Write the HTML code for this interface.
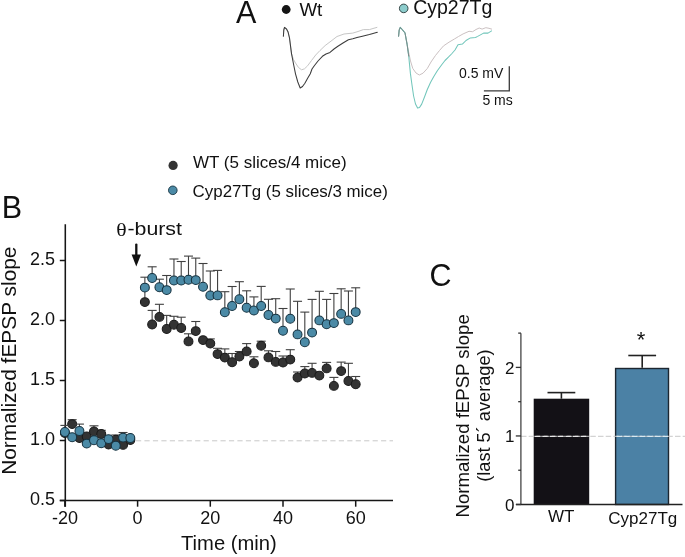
<!DOCTYPE html>
<html><head><meta charset="utf-8"><style>
html,body{margin:0;padding:0;background:#fff;}
body{width:685px;height:557px;overflow:hidden;}
svg{display:block;will-change:transform;filter:blur(0.3px);font-family:"Liberation Sans",sans-serif;fill:#111;}
svg text{fill:#111;}
</style></head><body>
<svg width="685" height="557" viewBox="0 0 685 557">
<rect width="685" height="557" fill="#fff"/>
<text x="236" y="22.6" font-size="30.5">A</text>
<circle cx="286.2" cy="9.5" r="4.4" fill="#151515"/>
<text x="299.4" y="15.8" font-size="18.8">Wt</text>
<circle cx="403.7" cy="8.4" r="4.3" fill="#8ccccc" stroke="#2a3a3a" stroke-width="0.9"/>
<text x="413.2" y="14.4" font-size="19.5">Cyp27Tg</text>
<polyline points="283.4,36.2 283.8,30.0 284.5,27.4 286.5,29.0 288.1,32.1 289.5,38.0 291.5,53.6 293.5,59.5 295.5,63.0 298.5,67.5 301.6,69.8 304.5,68.8 307.6,65.8 311.5,60.5 315.7,55.0 320.0,50.5 325.1,45.6 330.0,41.9 337.0,36.5 344.0,34.0 352.8,33.1 358.0,31.5 363.3,29.6 369.4,29.6 373.0,28.5 376.9,27.4" fill="none" stroke="#c6c6c6" stroke-width="1.0" stroke-linejoin="round" stroke-linecap="round"/>
<polyline points="283.4,36.2 283.8,30.0 284.5,27.4 286.5,29.0 288.1,32.1 289.5,38.0 291.5,53.6 293.5,64.0 295.5,73.8 297.8,82.0 300.2,88.0 302.5,86.5 304.9,83.3 307.5,78.5 310.3,73.8 312.0,69.0 314.3,65.8 318.0,61.0 322.4,56.3 326.0,54.0 330.0,52.4 334.0,49.0 337.9,46.3 343.0,43.0 348.4,39.7 352.8,38.8 357.0,37.5 362.4,36.2 369.4,34.5 373.0,33.5 377.3,32.3" fill="none" stroke="#3c3c3c" stroke-width="1.05" stroke-linejoin="round" stroke-linecap="round"/>
<polyline points="398.6,36.2 399.2,30.0 400.3,27.3 402.3,29.7 405.0,32.9 407.1,44.3 408.7,52.3 410.5,61.0 412.8,68.5 416.0,73.0 419.3,75.0 423.0,73.2 427.3,68.5 431.0,62.0 435.4,55.6 439.5,50.5 443.5,45.9 449.0,42.2 454.4,39.0 458.5,36.5 463.1,33.9 469.0,31.3 472.6,31.7 476.0,29.5 479.2,28.0 482.1,29.1 485.8,27.7 489.0,28.3 491.6,29.1" fill="none" stroke="#cbc1c2" stroke-width="1.0" stroke-linejoin="round" stroke-linecap="round"/>
<polyline points="398.6,36.2 399.2,30.0 400.3,27.3 402.3,29.7 405.0,32.9 407.1,44.3 408.7,56.0 410.4,73.4 412.0,85.0 413.6,96.0 415.5,104.0 417.6,108.1 419.5,107.5 421.7,104.1 424.5,97.0 427.3,89.5 430.5,82.5 433.8,76.6 437.5,70.5 441.9,64.5 445.0,60.5 448.4,57.2 451.5,54.0 455.0,50.0 458.0,44.8 462.4,44.1 466.0,40.5 470.4,37.9 475.5,37.5 477.7,36.4 483.6,33.1 488.0,33.1 491.6,30.9" fill="none" stroke="#72c6bb" stroke-width="1.05" stroke-linejoin="round" stroke-linecap="round"/>
<polyline points="398.6,36.2 399.2,30.0 400.3,27.3 402.3,29.7 405.0,32.9 407.1,44.3 408.7,56.0" fill="none" stroke="#7a8c8a" stroke-width="1.0" stroke-linejoin="round" stroke-linecap="round"/>
<polyline points="483.9,90.8 509.3,90.8 509.3,66.2" fill="none" stroke="#3a3a3a" stroke-width="1.3"/>
<text x="459" y="78" font-size="14">0.5 mV</text>
<text x="482.4" y="104.6" font-size="14">5 ms</text>
<text x="1.8" y="217.9" font-size="30.5">B</text>
<circle cx="173.1" cy="165.4" r="4.6" fill="#333"/>
<text x="193" y="168.4" font-size="17">WT (5 slices/4 mice)</text>
<circle cx="172.8" cy="190.3" r="4.3" fill="#4b8aa6" stroke="#153240" stroke-width="0.9"/>
<text x="192.6" y="196.6" font-size="16.9">Cyp27Tg (5 slices/3 mice)</text>
<line x1="65.3" y1="224.3" x2="65.3" y2="506.7" stroke="#161616" stroke-width="1.55"/>
<line x1="59.8" y1="500.5" x2="393" y2="500.5" stroke="#161616" stroke-width="1.6"/>
<line x1="59.8" y1="260.5" x2="65.3" y2="260.5" stroke="#161616" stroke-width="1.5"/>
<text x="55" y="264.8" font-size="18" text-anchor="end">2.5</text>
<line x1="59.8" y1="320.5" x2="65.3" y2="320.5" stroke="#161616" stroke-width="1.5"/>
<text x="55" y="324.8" font-size="18" text-anchor="end">2.0</text>
<line x1="59.8" y1="380.5" x2="65.3" y2="380.5" stroke="#161616" stroke-width="1.5"/>
<text x="55" y="384.8" font-size="18" text-anchor="end">1.5</text>
<line x1="59.8" y1="440.5" x2="65.3" y2="440.5" stroke="#161616" stroke-width="1.5"/>
<text x="55" y="444.8" font-size="18" text-anchor="end">1.0</text>
<line x1="59.8" y1="500.5" x2="65.3" y2="500.5" stroke="#161616" stroke-width="1.5"/>
<text x="55" y="504.8" font-size="18" text-anchor="end">0.5</text>
<line x1="64.90" y1="500.5" x2="64.90" y2="506.7" stroke="#161616" stroke-width="1.5"/>
<text x="64.90" y="523.5" font-size="18" text-anchor="middle">-20</text>
<line x1="137.60" y1="500.5" x2="137.60" y2="506.7" stroke="#161616" stroke-width="1.5"/>
<text x="137.60" y="523.5" font-size="18" text-anchor="middle">0</text>
<line x1="210.30" y1="500.5" x2="210.30" y2="506.7" stroke="#161616" stroke-width="1.5"/>
<text x="210.30" y="523.5" font-size="18" text-anchor="middle">20</text>
<line x1="283.00" y1="500.5" x2="283.00" y2="506.7" stroke="#161616" stroke-width="1.5"/>
<text x="283.00" y="523.5" font-size="18" text-anchor="middle">40</text>
<line x1="355.70" y1="500.5" x2="355.70" y2="506.7" stroke="#161616" stroke-width="1.5"/>
<text x="355.70" y="523.5" font-size="18" text-anchor="middle">60</text>
<text x="181" y="550" font-size="20.2">Time (min)</text>
<text transform="translate(15.8,360.7) rotate(-90)" font-size="20.9" text-anchor="middle">Normalized fEPSP slope</text>
<text x="116.3" y="235.6" font-size="18.8" font-family="Liberation Serif" textLength="10.4" lengthAdjust="spacingAndGlyphs">&#952;</text>
<text x="127.4" y="235.3" font-size="18.6" textLength="54.6" lengthAdjust="spacingAndGlyphs">-burst</text>
<line x1="136.3" y1="244.6" x2="136.3" y2="256" stroke="#111" stroke-width="2.3" stroke-linecap="round"/>
<polygon points="131.6,254.6 141,254.6 136.3,266.6" fill="#111"/>
<line x1="136" y1="440.8" x2="393" y2="440.8" stroke="#c8c8c8" stroke-width="1" stroke-dasharray="5.2 3.25"/>
<line x1="72.17" y1="419.70" x2="72.17" y2="424.10" stroke="#3f3f3f" stroke-width="1.1"/><line x1="67.67" y1="419.70" x2="76.67" y2="419.70" stroke="#3f3f3f" stroke-width="1.1"/>
<line x1="93.98" y1="425.80" x2="93.98" y2="431.40" stroke="#3f3f3f" stroke-width="1.1"/><line x1="89.48" y1="425.80" x2="98.48" y2="425.80" stroke="#3f3f3f" stroke-width="1.1"/>
<line x1="101.25" y1="430.30" x2="101.25" y2="434.00" stroke="#3f3f3f" stroke-width="1.1"/><line x1="96.75" y1="430.30" x2="105.75" y2="430.30" stroke="#3f3f3f" stroke-width="1.1"/>
<line x1="115.79" y1="435.00" x2="115.79" y2="439.80" stroke="#3f3f3f" stroke-width="1.1"/><line x1="111.29" y1="435.00" x2="120.29" y2="435.00" stroke="#3f3f3f" stroke-width="1.1"/>
<circle cx="64.90" cy="433.00" r="4.45" fill="#333333" stroke="#1a1a1a" stroke-width="1.05"/>
<circle cx="72.17" cy="424.10" r="4.45" fill="#333333" stroke="#1a1a1a" stroke-width="1.05"/>
<circle cx="79.44" cy="438.00" r="4.45" fill="#333333" stroke="#1a1a1a" stroke-width="1.05"/>
<circle cx="86.71" cy="436.40" r="4.45" fill="#333333" stroke="#1a1a1a" stroke-width="1.05"/>
<circle cx="93.98" cy="431.40" r="4.45" fill="#333333" stroke="#1a1a1a" stroke-width="1.05"/>
<circle cx="101.25" cy="434.00" r="4.45" fill="#333333" stroke="#1a1a1a" stroke-width="1.05"/>
<circle cx="108.52" cy="444.60" r="4.45" fill="#333333" stroke="#1a1a1a" stroke-width="1.05"/>
<circle cx="115.79" cy="439.80" r="4.45" fill="#333333" stroke="#1a1a1a" stroke-width="1.05"/>
<circle cx="123.06" cy="444.90" r="4.45" fill="#333333" stroke="#1a1a1a" stroke-width="1.05"/>
<circle cx="130.33" cy="440.00" r="4.45" fill="#333333" stroke="#1a1a1a" stroke-width="1.05"/>
<line x1="64.90" y1="425.40" x2="64.90" y2="432.00" stroke="#3f3f3f" stroke-width="1.1"/><line x1="60.40" y1="425.40" x2="69.40" y2="425.40" stroke="#3f3f3f" stroke-width="1.1"/>
<line x1="79.44" y1="424.10" x2="79.44" y2="431.00" stroke="#3f3f3f" stroke-width="1.1"/><line x1="74.94" y1="424.10" x2="83.94" y2="424.10" stroke="#3f3f3f" stroke-width="1.1"/>
<line x1="123.06" y1="432.50" x2="123.06" y2="437.60" stroke="#3f3f3f" stroke-width="1.1"/><line x1="118.56" y1="432.50" x2="127.56" y2="432.50" stroke="#3f3f3f" stroke-width="1.1"/>
<circle cx="64.90" cy="432.00" r="4.45" fill="#4b8aa6" stroke="#153240" stroke-width="1.05"/>
<circle cx="72.17" cy="437.30" r="4.45" fill="#4b8aa6" stroke="#153240" stroke-width="1.05"/>
<circle cx="79.44" cy="431.00" r="4.45" fill="#4b8aa6" stroke="#153240" stroke-width="1.05"/>
<circle cx="86.71" cy="443.60" r="4.45" fill="#4b8aa6" stroke="#153240" stroke-width="1.05"/>
<circle cx="93.98" cy="440.20" r="4.45" fill="#4b8aa6" stroke="#153240" stroke-width="1.05"/>
<circle cx="101.25" cy="443.30" r="4.45" fill="#4b8aa6" stroke="#153240" stroke-width="1.05"/>
<circle cx="108.52" cy="439.10" r="4.45" fill="#4b8aa6" stroke="#153240" stroke-width="1.05"/>
<circle cx="115.79" cy="445.70" r="4.45" fill="#4b8aa6" stroke="#153240" stroke-width="1.05"/>
<circle cx="123.06" cy="437.60" r="4.45" fill="#4b8aa6" stroke="#153240" stroke-width="1.05"/>
<circle cx="130.33" cy="438.00" r="4.45" fill="#4b8aa6" stroke="#153240" stroke-width="1.05"/>
<line x1="144.87" y1="289.00" x2="144.87" y2="302.10" stroke="#3f3f3f" stroke-width="1.1"/><line x1="140.37" y1="289.00" x2="149.37" y2="289.00" stroke="#3f3f3f" stroke-width="1.1"/>
<line x1="152.14" y1="310.40" x2="152.14" y2="324.50" stroke="#3f3f3f" stroke-width="1.1"/><line x1="147.64" y1="310.40" x2="156.64" y2="310.40" stroke="#3f3f3f" stroke-width="1.1"/>
<line x1="159.41" y1="304.30" x2="159.41" y2="316.90" stroke="#3f3f3f" stroke-width="1.1"/><line x1="154.91" y1="304.30" x2="163.91" y2="304.30" stroke="#3f3f3f" stroke-width="1.1"/>
<line x1="166.68" y1="315.40" x2="166.68" y2="329.00" stroke="#3f3f3f" stroke-width="1.1"/><line x1="162.18" y1="315.40" x2="171.18" y2="315.40" stroke="#3f3f3f" stroke-width="1.1"/>
<line x1="173.95" y1="316.30" x2="173.95" y2="324.70" stroke="#3f3f3f" stroke-width="1.1"/><line x1="169.45" y1="316.30" x2="178.45" y2="316.30" stroke="#3f3f3f" stroke-width="1.1"/>
<line x1="181.22" y1="317.20" x2="181.22" y2="328.00" stroke="#3f3f3f" stroke-width="1.1"/><line x1="176.72" y1="317.20" x2="185.72" y2="317.20" stroke="#3f3f3f" stroke-width="1.1"/>
<line x1="188.49" y1="333.80" x2="188.49" y2="341.40" stroke="#3f3f3f" stroke-width="1.1"/><line x1="183.99" y1="333.80" x2="192.99" y2="333.80" stroke="#3f3f3f" stroke-width="1.1"/>
<line x1="195.76" y1="321.50" x2="195.76" y2="331.10" stroke="#3f3f3f" stroke-width="1.1"/><line x1="191.26" y1="321.50" x2="200.26" y2="321.50" stroke="#3f3f3f" stroke-width="1.1"/>
<line x1="210.30" y1="338.90" x2="210.30" y2="343.60" stroke="#3f3f3f" stroke-width="1.1"/><line x1="205.80" y1="338.90" x2="214.80" y2="338.90" stroke="#3f3f3f" stroke-width="1.1"/>
<line x1="217.57" y1="348.30" x2="217.57" y2="354.10" stroke="#3f3f3f" stroke-width="1.1"/><line x1="213.07" y1="348.30" x2="222.07" y2="348.30" stroke="#3f3f3f" stroke-width="1.1"/>
<line x1="224.84" y1="348.90" x2="224.84" y2="357.60" stroke="#3f3f3f" stroke-width="1.1"/><line x1="220.34" y1="348.90" x2="229.34" y2="348.90" stroke="#3f3f3f" stroke-width="1.1"/>
<line x1="232.11" y1="353.50" x2="232.11" y2="362.30" stroke="#3f3f3f" stroke-width="1.1"/><line x1="227.61" y1="353.50" x2="236.61" y2="353.50" stroke="#3f3f3f" stroke-width="1.1"/>
<line x1="239.38" y1="351.50" x2="239.38" y2="356.50" stroke="#3f3f3f" stroke-width="1.1"/><line x1="234.88" y1="351.50" x2="243.88" y2="351.50" stroke="#3f3f3f" stroke-width="1.1"/>
<line x1="246.65" y1="343.60" x2="246.65" y2="351.40" stroke="#3f3f3f" stroke-width="1.1"/><line x1="242.15" y1="343.60" x2="251.15" y2="343.60" stroke="#3f3f3f" stroke-width="1.1"/>
<line x1="253.92" y1="356.80" x2="253.92" y2="363.20" stroke="#3f3f3f" stroke-width="1.1"/><line x1="249.42" y1="356.80" x2="258.42" y2="356.80" stroke="#3f3f3f" stroke-width="1.1"/>
<line x1="261.19" y1="341.20" x2="261.19" y2="345.70" stroke="#3f3f3f" stroke-width="1.1"/><line x1="256.69" y1="341.20" x2="265.69" y2="341.20" stroke="#3f3f3f" stroke-width="1.1"/>
<line x1="268.46" y1="350.80" x2="268.46" y2="357.40" stroke="#3f3f3f" stroke-width="1.1"/><line x1="263.96" y1="350.80" x2="272.96" y2="350.80" stroke="#3f3f3f" stroke-width="1.1"/>
<line x1="275.73" y1="351.50" x2="275.73" y2="361.90" stroke="#3f3f3f" stroke-width="1.1"/><line x1="271.23" y1="351.50" x2="280.23" y2="351.50" stroke="#3f3f3f" stroke-width="1.1"/>
<line x1="283.00" y1="356.00" x2="283.00" y2="362.50" stroke="#3f3f3f" stroke-width="1.1"/><line x1="278.50" y1="356.00" x2="287.50" y2="356.00" stroke="#3f3f3f" stroke-width="1.1"/>
<line x1="290.27" y1="349.70" x2="290.27" y2="359.60" stroke="#3f3f3f" stroke-width="1.1"/><line x1="285.77" y1="349.70" x2="294.77" y2="349.70" stroke="#3f3f3f" stroke-width="1.1"/>
<line x1="297.54" y1="372.00" x2="297.54" y2="377.50" stroke="#3f3f3f" stroke-width="1.1"/><line x1="293.04" y1="372.00" x2="302.04" y2="372.00" stroke="#3f3f3f" stroke-width="1.1"/>
<line x1="304.81" y1="366.60" x2="304.81" y2="373.50" stroke="#3f3f3f" stroke-width="1.1"/><line x1="300.31" y1="366.60" x2="309.31" y2="366.60" stroke="#3f3f3f" stroke-width="1.1"/>
<line x1="312.08" y1="363.30" x2="312.08" y2="372.90" stroke="#3f3f3f" stroke-width="1.1"/><line x1="307.58" y1="363.30" x2="316.58" y2="363.30" stroke="#3f3f3f" stroke-width="1.1"/>
<line x1="326.62" y1="362.40" x2="326.62" y2="368.40" stroke="#3f3f3f" stroke-width="1.1"/><line x1="322.12" y1="362.40" x2="331.12" y2="362.40" stroke="#3f3f3f" stroke-width="1.1"/>
<line x1="333.89" y1="377.40" x2="333.89" y2="385.90" stroke="#3f3f3f" stroke-width="1.1"/><line x1="329.39" y1="377.40" x2="338.39" y2="377.40" stroke="#3f3f3f" stroke-width="1.1"/>
<line x1="341.16" y1="362.10" x2="341.16" y2="371.10" stroke="#3f3f3f" stroke-width="1.1"/><line x1="336.66" y1="362.10" x2="345.66" y2="362.10" stroke="#3f3f3f" stroke-width="1.1"/>
<line x1="348.43" y1="363.30" x2="348.43" y2="381.00" stroke="#3f3f3f" stroke-width="1.1"/><line x1="343.93" y1="363.30" x2="352.93" y2="363.30" stroke="#3f3f3f" stroke-width="1.1"/>
<line x1="355.70" y1="376.50" x2="355.70" y2="384.30" stroke="#3f3f3f" stroke-width="1.1"/><line x1="351.20" y1="376.50" x2="360.20" y2="376.50" stroke="#3f3f3f" stroke-width="1.1"/>
<circle cx="144.87" cy="302.10" r="4.45" fill="#333333" stroke="#1a1a1a" stroke-width="1.05"/>
<circle cx="152.14" cy="324.50" r="4.45" fill="#333333" stroke="#1a1a1a" stroke-width="1.05"/>
<circle cx="159.41" cy="316.90" r="4.45" fill="#333333" stroke="#1a1a1a" stroke-width="1.05"/>
<circle cx="166.68" cy="329.00" r="4.45" fill="#333333" stroke="#1a1a1a" stroke-width="1.05"/>
<circle cx="173.95" cy="324.70" r="4.45" fill="#333333" stroke="#1a1a1a" stroke-width="1.05"/>
<circle cx="181.22" cy="328.00" r="4.45" fill="#333333" stroke="#1a1a1a" stroke-width="1.05"/>
<circle cx="188.49" cy="341.40" r="4.45" fill="#333333" stroke="#1a1a1a" stroke-width="1.05"/>
<circle cx="195.76" cy="331.10" r="4.45" fill="#333333" stroke="#1a1a1a" stroke-width="1.05"/>
<circle cx="203.03" cy="340.10" r="4.45" fill="#333333" stroke="#1a1a1a" stroke-width="1.05"/>
<circle cx="210.30" cy="343.60" r="4.45" fill="#333333" stroke="#1a1a1a" stroke-width="1.05"/>
<circle cx="217.57" cy="354.10" r="4.45" fill="#333333" stroke="#1a1a1a" stroke-width="1.05"/>
<circle cx="224.84" cy="357.60" r="4.45" fill="#333333" stroke="#1a1a1a" stroke-width="1.05"/>
<circle cx="232.11" cy="362.30" r="4.45" fill="#333333" stroke="#1a1a1a" stroke-width="1.05"/>
<circle cx="239.38" cy="356.50" r="4.45" fill="#333333" stroke="#1a1a1a" stroke-width="1.05"/>
<circle cx="246.65" cy="351.40" r="4.45" fill="#333333" stroke="#1a1a1a" stroke-width="1.05"/>
<circle cx="253.92" cy="363.20" r="4.45" fill="#333333" stroke="#1a1a1a" stroke-width="1.05"/>
<circle cx="261.19" cy="345.70" r="4.45" fill="#333333" stroke="#1a1a1a" stroke-width="1.05"/>
<circle cx="268.46" cy="357.40" r="4.45" fill="#333333" stroke="#1a1a1a" stroke-width="1.05"/>
<circle cx="275.73" cy="361.90" r="4.45" fill="#333333" stroke="#1a1a1a" stroke-width="1.05"/>
<circle cx="283.00" cy="362.50" r="4.45" fill="#333333" stroke="#1a1a1a" stroke-width="1.05"/>
<circle cx="290.27" cy="359.60" r="4.45" fill="#333333" stroke="#1a1a1a" stroke-width="1.05"/>
<circle cx="297.54" cy="377.50" r="4.45" fill="#333333" stroke="#1a1a1a" stroke-width="1.05"/>
<circle cx="304.81" cy="373.50" r="4.45" fill="#333333" stroke="#1a1a1a" stroke-width="1.05"/>
<circle cx="312.08" cy="372.90" r="4.45" fill="#333333" stroke="#1a1a1a" stroke-width="1.05"/>
<circle cx="319.35" cy="375.60" r="4.45" fill="#333333" stroke="#1a1a1a" stroke-width="1.05"/>
<circle cx="326.62" cy="368.40" r="4.45" fill="#333333" stroke="#1a1a1a" stroke-width="1.05"/>
<circle cx="333.89" cy="385.90" r="4.45" fill="#333333" stroke="#1a1a1a" stroke-width="1.05"/>
<circle cx="341.16" cy="371.10" r="4.45" fill="#333333" stroke="#1a1a1a" stroke-width="1.05"/>
<circle cx="348.43" cy="381.00" r="4.45" fill="#333333" stroke="#1a1a1a" stroke-width="1.05"/>
<circle cx="355.70" cy="384.30" r="4.45" fill="#333333" stroke="#1a1a1a" stroke-width="1.05"/>
<line x1="144.87" y1="277.20" x2="144.87" y2="287.60" stroke="#3f3f3f" stroke-width="1.1"/><line x1="140.37" y1="277.20" x2="149.37" y2="277.20" stroke="#3f3f3f" stroke-width="1.1"/>
<line x1="152.14" y1="266.80" x2="152.14" y2="278.00" stroke="#3f3f3f" stroke-width="1.1"/><line x1="147.64" y1="266.80" x2="156.64" y2="266.80" stroke="#3f3f3f" stroke-width="1.1"/>
<line x1="159.41" y1="279.20" x2="159.41" y2="287.30" stroke="#3f3f3f" stroke-width="1.1"/><line x1="154.91" y1="279.20" x2="163.91" y2="279.20" stroke="#3f3f3f" stroke-width="1.1"/>
<line x1="166.68" y1="275.50" x2="166.68" y2="290.10" stroke="#3f3f3f" stroke-width="1.1"/><line x1="162.18" y1="275.50" x2="171.18" y2="275.50" stroke="#3f3f3f" stroke-width="1.1"/>
<line x1="173.95" y1="259.00" x2="173.95" y2="280.50" stroke="#3f3f3f" stroke-width="1.1"/><line x1="169.45" y1="259.00" x2="178.45" y2="259.00" stroke="#3f3f3f" stroke-width="1.1"/>
<line x1="181.22" y1="261.50" x2="181.22" y2="280.50" stroke="#3f3f3f" stroke-width="1.1"/><line x1="176.72" y1="261.50" x2="185.72" y2="261.50" stroke="#3f3f3f" stroke-width="1.1"/>
<line x1="188.49" y1="256.10" x2="188.49" y2="279.80" stroke="#3f3f3f" stroke-width="1.1"/><line x1="183.99" y1="256.10" x2="192.99" y2="256.10" stroke="#3f3f3f" stroke-width="1.1"/>
<line x1="195.76" y1="258.10" x2="195.76" y2="280.10" stroke="#3f3f3f" stroke-width="1.1"/><line x1="191.26" y1="258.10" x2="200.26" y2="258.10" stroke="#3f3f3f" stroke-width="1.1"/>
<line x1="203.03" y1="263.50" x2="203.03" y2="286.80" stroke="#3f3f3f" stroke-width="1.1"/><line x1="198.53" y1="263.50" x2="207.53" y2="263.50" stroke="#3f3f3f" stroke-width="1.1"/>
<line x1="210.30" y1="271.00" x2="210.30" y2="295.50" stroke="#3f3f3f" stroke-width="1.1"/><line x1="205.80" y1="271.00" x2="214.80" y2="271.00" stroke="#3f3f3f" stroke-width="1.1"/>
<line x1="217.57" y1="270.40" x2="217.57" y2="295.40" stroke="#3f3f3f" stroke-width="1.1"/><line x1="213.07" y1="270.40" x2="222.07" y2="270.40" stroke="#3f3f3f" stroke-width="1.1"/>
<line x1="224.84" y1="291.70" x2="224.84" y2="312.30" stroke="#3f3f3f" stroke-width="1.1"/><line x1="220.34" y1="291.70" x2="229.34" y2="291.70" stroke="#3f3f3f" stroke-width="1.1"/>
<line x1="232.11" y1="286.50" x2="232.11" y2="306.00" stroke="#3f3f3f" stroke-width="1.1"/><line x1="227.61" y1="286.50" x2="236.61" y2="286.50" stroke="#3f3f3f" stroke-width="1.1"/>
<line x1="239.38" y1="281.70" x2="239.38" y2="299.30" stroke="#3f3f3f" stroke-width="1.1"/><line x1="234.88" y1="281.70" x2="243.88" y2="281.70" stroke="#3f3f3f" stroke-width="1.1"/>
<line x1="246.65" y1="290.80" x2="246.65" y2="307.80" stroke="#3f3f3f" stroke-width="1.1"/><line x1="242.15" y1="290.80" x2="251.15" y2="290.80" stroke="#3f3f3f" stroke-width="1.1"/>
<line x1="253.92" y1="296.90" x2="253.92" y2="310.50" stroke="#3f3f3f" stroke-width="1.1"/><line x1="249.42" y1="296.90" x2="258.42" y2="296.90" stroke="#3f3f3f" stroke-width="1.1"/>
<line x1="261.19" y1="286.40" x2="261.19" y2="306.00" stroke="#3f3f3f" stroke-width="1.1"/><line x1="256.69" y1="286.40" x2="265.69" y2="286.40" stroke="#3f3f3f" stroke-width="1.1"/>
<line x1="268.46" y1="299.30" x2="268.46" y2="315.00" stroke="#3f3f3f" stroke-width="1.1"/><line x1="263.96" y1="299.30" x2="272.96" y2="299.30" stroke="#3f3f3f" stroke-width="1.1"/>
<line x1="275.73" y1="298.70" x2="275.73" y2="318.60" stroke="#3f3f3f" stroke-width="1.1"/><line x1="271.23" y1="298.70" x2="280.23" y2="298.70" stroke="#3f3f3f" stroke-width="1.1"/>
<line x1="283.00" y1="308.50" x2="283.00" y2="330.80" stroke="#3f3f3f" stroke-width="1.1"/><line x1="278.50" y1="308.50" x2="287.50" y2="308.50" stroke="#3f3f3f" stroke-width="1.1"/>
<line x1="290.27" y1="289.00" x2="290.27" y2="318.70" stroke="#3f3f3f" stroke-width="1.1"/><line x1="285.77" y1="289.00" x2="294.77" y2="289.00" stroke="#3f3f3f" stroke-width="1.1"/>
<line x1="297.54" y1="301.30" x2="297.54" y2="334.40" stroke="#3f3f3f" stroke-width="1.1"/><line x1="293.04" y1="301.30" x2="302.04" y2="301.30" stroke="#3f3f3f" stroke-width="1.1"/>
<line x1="304.81" y1="312.10" x2="304.81" y2="342.20" stroke="#3f3f3f" stroke-width="1.1"/><line x1="300.31" y1="312.10" x2="309.31" y2="312.10" stroke="#3f3f3f" stroke-width="1.1"/>
<line x1="312.08" y1="299.40" x2="312.08" y2="332.60" stroke="#3f3f3f" stroke-width="1.1"/><line x1="307.58" y1="299.40" x2="316.58" y2="299.40" stroke="#3f3f3f" stroke-width="1.1"/>
<line x1="319.35" y1="291.30" x2="319.35" y2="320.40" stroke="#3f3f3f" stroke-width="1.1"/><line x1="314.85" y1="291.30" x2="323.85" y2="291.30" stroke="#3f3f3f" stroke-width="1.1"/>
<line x1="326.62" y1="299.40" x2="326.62" y2="324.20" stroke="#3f3f3f" stroke-width="1.1"/><line x1="322.12" y1="299.40" x2="331.12" y2="299.40" stroke="#3f3f3f" stroke-width="1.1"/>
<line x1="333.89" y1="293.50" x2="333.89" y2="323.10" stroke="#3f3f3f" stroke-width="1.1"/><line x1="329.39" y1="293.50" x2="338.39" y2="293.50" stroke="#3f3f3f" stroke-width="1.1"/>
<line x1="341.16" y1="288.80" x2="341.16" y2="313.90" stroke="#3f3f3f" stroke-width="1.1"/><line x1="336.66" y1="288.80" x2="345.66" y2="288.80" stroke="#3f3f3f" stroke-width="1.1"/>
<line x1="348.43" y1="291.00" x2="348.43" y2="320.40" stroke="#3f3f3f" stroke-width="1.1"/><line x1="343.93" y1="291.00" x2="352.93" y2="291.00" stroke="#3f3f3f" stroke-width="1.1"/>
<line x1="355.70" y1="287.80" x2="355.70" y2="312.10" stroke="#3f3f3f" stroke-width="1.1"/><line x1="351.20" y1="287.80" x2="360.20" y2="287.80" stroke="#3f3f3f" stroke-width="1.1"/>
<circle cx="144.87" cy="287.60" r="4.45" fill="#4b8aa6" stroke="#153240" stroke-width="1.05"/>
<circle cx="152.14" cy="278.00" r="4.45" fill="#4b8aa6" stroke="#153240" stroke-width="1.05"/>
<circle cx="159.41" cy="287.30" r="4.45" fill="#4b8aa6" stroke="#153240" stroke-width="1.05"/>
<circle cx="166.68" cy="290.10" r="4.45" fill="#4b8aa6" stroke="#153240" stroke-width="1.05"/>
<circle cx="173.95" cy="280.50" r="4.45" fill="#4b8aa6" stroke="#153240" stroke-width="1.05"/>
<circle cx="181.22" cy="280.50" r="4.45" fill="#4b8aa6" stroke="#153240" stroke-width="1.05"/>
<circle cx="188.49" cy="279.80" r="4.45" fill="#4b8aa6" stroke="#153240" stroke-width="1.05"/>
<circle cx="195.76" cy="280.10" r="4.45" fill="#4b8aa6" stroke="#153240" stroke-width="1.05"/>
<circle cx="203.03" cy="286.80" r="4.45" fill="#4b8aa6" stroke="#153240" stroke-width="1.05"/>
<circle cx="210.30" cy="295.50" r="4.45" fill="#4b8aa6" stroke="#153240" stroke-width="1.05"/>
<circle cx="217.57" cy="295.40" r="4.45" fill="#4b8aa6" stroke="#153240" stroke-width="1.05"/>
<circle cx="224.84" cy="312.30" r="4.45" fill="#4b8aa6" stroke="#153240" stroke-width="1.05"/>
<circle cx="232.11" cy="306.00" r="4.45" fill="#4b8aa6" stroke="#153240" stroke-width="1.05"/>
<circle cx="239.38" cy="299.30" r="4.45" fill="#4b8aa6" stroke="#153240" stroke-width="1.05"/>
<circle cx="246.65" cy="307.80" r="4.45" fill="#4b8aa6" stroke="#153240" stroke-width="1.05"/>
<circle cx="253.92" cy="310.50" r="4.45" fill="#4b8aa6" stroke="#153240" stroke-width="1.05"/>
<circle cx="261.19" cy="306.00" r="4.45" fill="#4b8aa6" stroke="#153240" stroke-width="1.05"/>
<circle cx="268.46" cy="315.00" r="4.45" fill="#4b8aa6" stroke="#153240" stroke-width="1.05"/>
<circle cx="275.73" cy="318.60" r="4.45" fill="#4b8aa6" stroke="#153240" stroke-width="1.05"/>
<circle cx="283.00" cy="330.80" r="4.45" fill="#4b8aa6" stroke="#153240" stroke-width="1.05"/>
<circle cx="290.27" cy="318.70" r="4.45" fill="#4b8aa6" stroke="#153240" stroke-width="1.05"/>
<circle cx="297.54" cy="334.40" r="4.45" fill="#4b8aa6" stroke="#153240" stroke-width="1.05"/>
<circle cx="304.81" cy="342.20" r="4.45" fill="#4b8aa6" stroke="#153240" stroke-width="1.05"/>
<circle cx="312.08" cy="332.60" r="4.45" fill="#4b8aa6" stroke="#153240" stroke-width="1.05"/>
<circle cx="319.35" cy="320.40" r="4.45" fill="#4b8aa6" stroke="#153240" stroke-width="1.05"/>
<circle cx="326.62" cy="324.20" r="4.45" fill="#4b8aa6" stroke="#153240" stroke-width="1.05"/>
<circle cx="333.89" cy="323.10" r="4.45" fill="#4b8aa6" stroke="#153240" stroke-width="1.05"/>
<circle cx="341.16" cy="313.90" r="4.45" fill="#4b8aa6" stroke="#153240" stroke-width="1.05"/>
<circle cx="348.43" cy="320.40" r="4.45" fill="#4b8aa6" stroke="#153240" stroke-width="1.05"/>
<circle cx="355.70" cy="312.10" r="4.45" fill="#4b8aa6" stroke="#153240" stroke-width="1.05"/>
<text x="429.6" y="285.6" font-size="30.5">C</text>
<rect x="533.7" y="398.7" width="55.5" height="105.8" fill="#131116"/>
<rect x="615.6" y="368.5" width="52.9" height="136" fill="#4b81a5" stroke="#1c2630" stroke-width="1.4"/>
<line x1="561.4" y1="392.6" x2="561.4" y2="398.7" stroke="#222" stroke-width="1.6"/>
<line x1="547.5" y1="392.6" x2="575.3" y2="392.6" stroke="#222" stroke-width="1.6"/>
<line x1="642.2" y1="355.5" x2="642.2" y2="367.8" stroke="#222" stroke-width="1.6"/>
<line x1="628.3" y1="355.5" x2="656.1" y2="355.5" stroke="#222" stroke-width="1.6"/>
<text x="641" y="347" font-size="22" text-anchor="middle">*</text>
<line x1="521" y1="436.3" x2="685" y2="436.3" stroke="#c8c8c8" stroke-width="1" stroke-dasharray="5.5 2.2"/>
<line x1="534.5" y1="436.3" x2="589" y2="436.3" stroke="#e6e6e6" stroke-width="1.2" stroke-dasharray="5.5 2.2"/>
<line x1="616.5" y1="436.3" x2="668" y2="436.3" stroke="#d8e8f0" stroke-width="1.2" stroke-dasharray="5.5 2.2"/>
<line x1="520.9" y1="333.3" x2="520.9" y2="504.5" stroke="#444" stroke-width="1.3"/>
<line x1="516" y1="504.5" x2="682.5" y2="504.5" stroke="#222" stroke-width="1.5"/>
<line x1="515.8" y1="504.50" x2="521" y2="504.50" stroke="#333" stroke-width="1.3"/>
<text x="514.5" y="510.70" font-size="17" text-anchor="end">0</text>
<line x1="515.8" y1="435.95" x2="521" y2="435.95" stroke="#333" stroke-width="1.3"/>
<text x="514.5" y="442.15" font-size="17" text-anchor="end">1</text>
<line x1="515.8" y1="367.40" x2="521" y2="367.40" stroke="#333" stroke-width="1.3"/>
<text x="514.5" y="373.60" font-size="17" text-anchor="end">2</text>
<line x1="518.2" y1="470.23" x2="521" y2="470.23" stroke="#333" stroke-width="1.3"/>
<line x1="518.2" y1="401.68" x2="521" y2="401.68" stroke="#333" stroke-width="1.3"/>
<line x1="518.2" y1="333.12" x2="521" y2="333.12" stroke="#333" stroke-width="1.3"/>
<text x="561.1" y="522.4" font-size="17" text-anchor="middle">WT</text>
<text x="642.8" y="523.6" font-size="17" text-anchor="middle">Cyp27Tg</text>
<text transform="translate(468.5,415.9) rotate(-90)" font-size="18.6" text-anchor="middle">Normalized fEPSP slope</text>
<text transform="translate(489.9,415.6) rotate(-90)" font-size="18.2" text-anchor="middle">(last 5&#180; average)</text>
</svg>
</body></html>
